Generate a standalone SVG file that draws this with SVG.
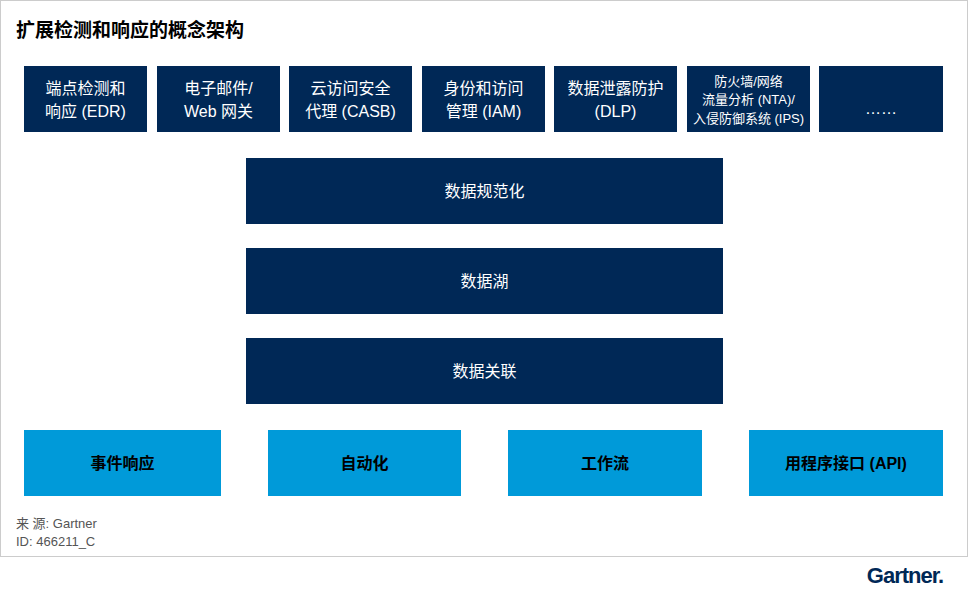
<svg xmlns="http://www.w3.org/2000/svg" width="969" height="594" viewBox="0 0 969 594">
<style>
text{font-family:"Liberation Sans","Noto Sans CJK SC",sans-serif;text-anchor:middle;fill:#fff}
.d{fill:#002856}.l{fill:#009ad9}
.t{font-size:16px}.s{font-size:13px}.b{font-size:16px;font-weight:bold;fill:#000}
.f{font-size:13px;fill:#555;text-anchor:start}
</style>
<rect width="969" height="594" fill="#fff"/>
<rect x="0.5" y="0.5" width="967" height="556" fill="none" stroke="#ccc"/>
<text x="16" y="37" style="font-size:19px;font-weight:bold;fill:#000;text-anchor:start">扩展检测和响应的概念架构</text>
<g id="edr"><rect class="d" x="24" y="66" width="123" height="66"/><text class="t" x="85.5" y="94">端点检测和</text><text class="t" x="85.5" y="117">响应 (EDR)</text></g>
<g id="email"><rect class="d" x="157" y="66" width="123" height="66"/><text class="t" x="218.5" y="94">电子邮件/</text><text class="t" x="218.5" y="117">Web 网关</text></g>
<g id="casb"><rect class="d" x="289" y="66" width="123" height="66"/><text class="t" x="350.5" y="94">云访问安全</text><text class="t" x="350.5" y="117">代理 (CASB)</text></g>
<g id="iam"><rect class="d" x="422" y="66" width="123" height="66"/><text class="t" x="483.5" y="94">身份和访问</text><text class="t" x="483.5" y="117">管理 (IAM)</text></g>
<g id="dlp"><rect class="d" x="554" y="66" width="123" height="66"/><text class="t" x="615.5" y="94">数据泄露防护</text><text class="t" x="615.5" y="117">(DLP)</text></g>
<g id="fw"><rect class="d" x="687" y="66" width="123" height="66"/><text class="s" x="748.5" y="86">防火墙/网络</text><text class="s" x="748.5" y="104">流量分析 (NTA)/</text><text class="s" x="748.5" y="123">入侵防御系统 (IPS)</text></g>
<g id="more"><rect class="d" x="819" y="66" width="124" height="66"/><text class="t" x="881" y="114">……</text></g>
<g id="norm"><rect class="d" x="246" y="158" width="477" height="66"/><text class="t" x="484.5" y="197">数据规范化</text></g>
<g id="lake"><rect class="d" x="246" y="248" width="477" height="66"/><text class="t" x="484.5" y="287">数据湖</text></g>
<g id="corr"><rect class="d" x="246" y="338" width="477" height="66"/><text class="t" x="484.5" y="377">数据关联</text></g>
<g id="ir"><rect class="l" x="24" y="430" width="197" height="66"/><text class="b" x="122.5" y="469">事件响应</text></g>
<g id="auto"><rect class="l" x="268" y="430" width="193" height="66"/><text class="b" x="364.5" y="469">自动化</text></g>
<g id="wf"><rect class="l" x="508" y="430" width="194" height="66"/><text class="b" x="605" y="469">工作流</text></g>
<g id="api"><rect class="l" x="749" y="430" width="194" height="66"/><text class="b" x="846" y="469">用程序接口 (API)</text></g>
<g id="connectors"/>
<text class="f" x="16" y="528">来 源: Gartner</text>
<text class="f" x="16" y="546">ID: 466211_C</text>
<text x="905" y="583" style="font-size:22px;font-weight:bold;fill:#002856;letter-spacing:-1px">Gartner.</text>
</svg>
